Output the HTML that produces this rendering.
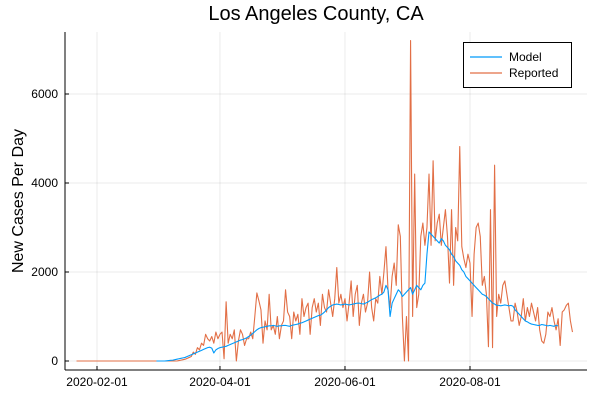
<!DOCTYPE html>
<html><head><meta charset="utf-8"><style>
body{margin:0;background:#fff;}
svg{display:block;font-family:"Liberation Sans",sans-serif;}
</style></head><body>
<svg id="chart" width="600" height="400">
<text x="316" y="20" font-size="20" text-anchor="middle">Los Angeles County, CA</text>
<text transform="translate(23,201) rotate(-90)" font-size="16" text-anchor="middle">New Cases Per Day</text>
<g id="grid"></g>
<g id="axes"></g>
<g id="series"></g>
<g>
<rect x="463.5" y="42.5" width="108" height="45" fill="#fff" stroke="#000" stroke-width="1"/>
<line x1="470" y1="57" x2="502" y2="57" stroke="#009AFA" stroke-width="1.2"/>
<text x="509" y="61" font-size="12">Model</text>
<line x1="470" y1="73" x2="502" y2="73" stroke="#E26F46" stroke-width="1.2"/>
<text x="509" y="77" font-size="12">Reported</text>
</g>
</svg>
<script>
const yTicks = [0, 2000, 4000, 6000];
const xTickDates = ["2020-02-01", "2020-04-01", "2020-06-01", "2020-08-01"];
const reportedStart = "2020-01-22";
const reportedJanFeb = [0,0,0,0,0,0,0,0,0,0, 0,0,0,0,0,0,0,0,0,0,0,0,0,0,0,0,0,0,0,0,0,0,0,0,0,0,0,0,0];
const reportedMar = [0,0,0,0,0,0,0,0,0,0,0,10,20,30,40,60,80,100,200,150,300,250,400,350,600,500,450,550,400,650,500];
const reportedApr = [600,650,50,1330,400,600,500,700,0,450,700,600,350,500,500,650,500,1000,1530,1350,1150,400,900,700,1500,700,800,600,1000,500];
const reportedMay = [800,900,1600,1100,1000,500,1100,900,1050,600,1400,1000,1200,1300,600,1200,1400,1100,1300,800,1500,1200,1100,1600,1300,1000,1400,2100,1300,1500,1200];
const reportedJun = [1400,900,1300,1800,1000,1500,1700,800,1300,1500,1100,1300,2000,1200,900,1400,1300,1900,1500,2000,2570,1600,1200,1900,2200,1700,3060,2800,1000,0];
const reportedJul = [1000,0,7200,1000,4200,1200,1500,2800,3100,2600,3000,4200,2600,4500,2700,3100,3300,2600,3000,3400,2800,1750,3400,1700,3000,2700,4820,2570,2300,2100,2400];
const reportedAug = [2200,1000,2400,3000,3100,2800,1700,1900,1500,320,3400,300,4400,1000,1500,1300,1700,1800,1500,1200,900,900,1300,1100,800,1000,1400,900,1200,1000,1300];
const reportedSep = [1100,900,1200,700,450,400,600,1100,1000,1200,900,700,950,350,1100,1150,1250,1300,900,650];
const modelStart = "2020-03-01";
const modelMar = [0,0,0,0,0,5,10,15,20,30,40,50,60,70,80,100,120,140,160,180,200,220,240,260,280,300,310,290,180,250,280];
const modelApr = [300,310,320,330,350,370,390,410,430,450,470,480,500,520,550,580,620,660,700,730,750,760,770,780,790,790,800,790,780,790];
const modelMay = [790,800,800,790,780,800,810,820,830,850,860,880,900,920,940,960,980,1000,1020,1030,1060,1100,1150,1200,1230,1260,1270,1280,1270,1260,1270];
const modelJun = [1280,1270,1260,1270,1280,1290,1300,1300,1290,1280,1300,1320,1350,1380,1400,1420,1450,1480,1500,1550,1700,1600,1000,1300,1400,1500,1600,1550,1450,1500];
const modelJul = [1550,1600,1650,1500,1600,1700,1650,1600,1700,1750,2400,2900,2850,2800,2750,2700,2650,2750,2700,2600,2550,2500,2400,2350,2250,2200,2150,2050,2000,1900,1850];
const modelAug = [1800,1750,1700,1650,1600,1550,1500,1480,1450,1400,1350,1300,1280,1250,1250,1240,1250,1260,1250,1240,1250,1230,1150,1100,1050,1000,950,900,880,850,830];
const modelSep = [820,810,800,800,820,810,800,790,800,790,780,800,790];

const reported = [].concat(reportedJanFeb, reportedMar, reportedApr, reportedMay, reportedJun, reportedJul, reportedAug, reportedSep);
const model = [].concat(modelMar, modelApr, modelMay, modelJun, modelJul, modelAug, modelSep);

const NS = "http://www.w3.org/2000/svg";
const DAY = 86400000;
const t0 = Date.parse("2020-02-01"), t1 = Date.parse("2020-08-01");
const X0 = 97, X1 = 470;
function xScale(t){ return X0 + (t - t0) / (t1 - t0) * (X1 - X0); }
function yScale(v){ return 361 - v * 89 / 2000; }
const plotL = 65, plotR = 587, plotT = 32, plotB = 370;

const grid = document.getElementById('grid');
const axes = document.getElementById('axes');
const series = document.getElementById('series');

function mk(tag, attrs, parent){
  const e = document.createElementNS(NS, tag);
  for (const k in attrs) e.setAttribute(k, attrs[k]);
  parent.appendChild(e);
  return e;
}

yTicks.forEach(v => {
  const y = yScale(v);
  const g = mk('line', {x1:plotL, x2:plotR, y1:y, y2:y, stroke:'#000', 'stroke-opacity':0.08, 'stroke-width':1}, grid);
  
  
  const tk = mk('line', {x1:plotL, x2:plotL+4, y1:y, y2:y, stroke:'#000'}, axes);
  
  
  const t = mk('text', {x:plotL-7, y:y+4, 'font-size':12, 'text-anchor':'end'}, axes);
  t.textContent = v;
  
  
});
xTickDates.forEach(d => {
  const x = xScale(Date.parse(d));
  const g = mk('line', {x1:x, x2:x, y1:plotT, y2:plotB, stroke:'#000', 'stroke-opacity':0.08, 'stroke-width':1}, grid);
  
  
  const tk = mk('line', {x1:x, x2:x, y1:plotB, y2:plotB-4, stroke:'#000'}, axes);
  
  
  const t = mk('text', {x:x, y:plotB+16, 'font-size':12, 'text-anchor':'middle'}, axes);
  t.textContent = d;
  
  
});
const ya = mk('line', {x1:plotL, x2:plotL, y1:plotT, y2:plotB, stroke:'#000'}, axes);


const xa = mk('line', {x1:plotL, x2:plotR, y1:plotB, y2:plotB, stroke:'#000'}, axes);



function pathFor(arr, start){
  const s = Date.parse(start);
  return arr.map((v,i) => (i ? 'L' : 'M') + xScale(s + i*DAY).toFixed(2) + ',' + yScale(v).toFixed(2)).join('');
}
const rp = mk('path', {d:pathFor(reported, reportedStart), fill:'none', stroke:'#E26F46', 'stroke-width':1.1, 'stroke-linejoin':'round'}, series);


const mp = mk('path', {d:pathFor(model, modelStart), fill:'none', stroke:'#009AFA', 'stroke-width':1.1, 'stroke-linejoin':'round'}, series);


</script>
</body></html>
